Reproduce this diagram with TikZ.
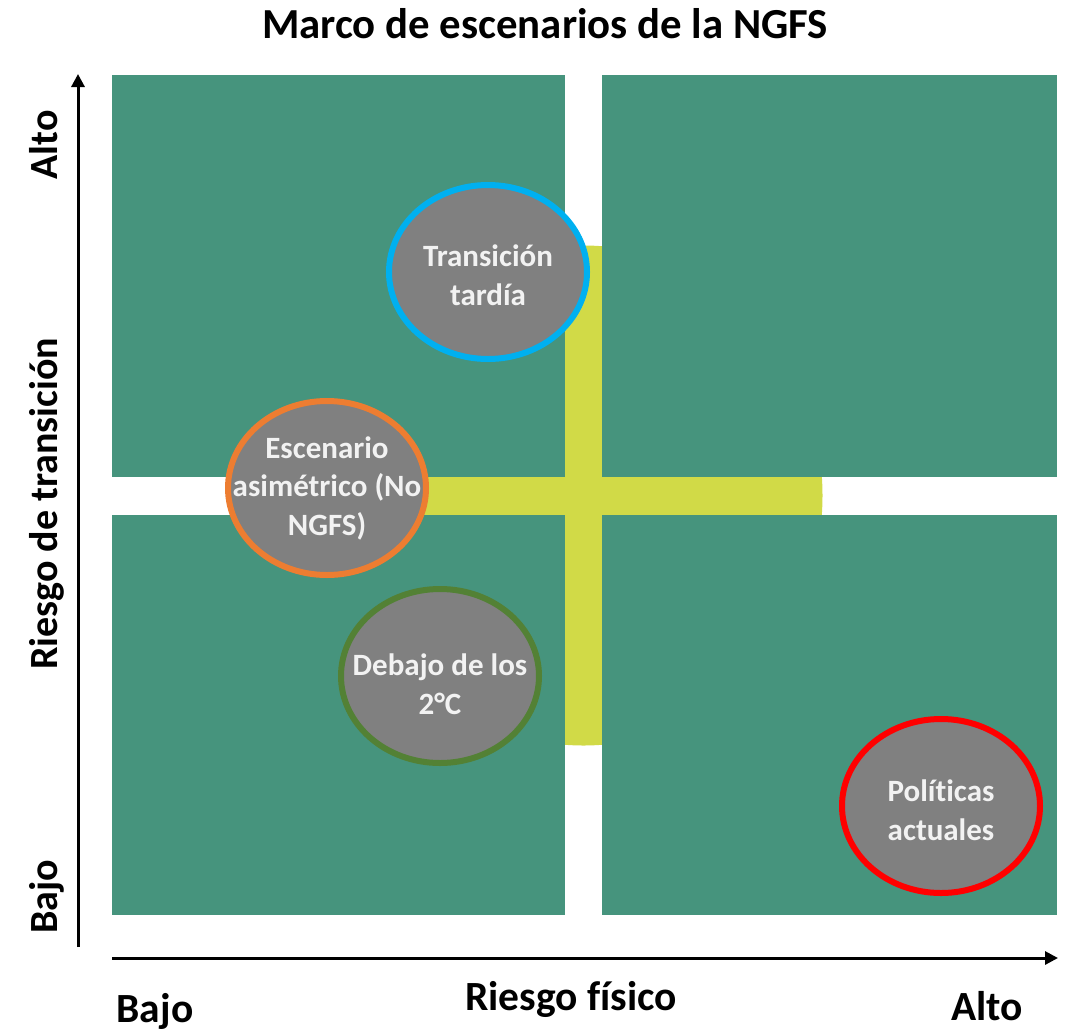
\documentclass[tikz,border=0pt]{standalone}
\usepackage{fontspec}
\setmainfont{Carlito}[Ligatures=NoCommon]
\usetikzlibrary{shapes.geometric,arrows.meta}
\definecolor{qgreen}{HTML}{46947D}
\definecolor{ylw}{HTML}{D1DA47}
\definecolor{sgray}{HTML}{808080}
\definecolor{cblue}{HTML}{00B0F0}
\definecolor{corange}{HTML}{ED7D31}
\definecolor{cdgreen}{HTML}{538135}
\definecolor{cred}{HTML}{FF0000}
\definecolor{stxt}{HTML}{F2F2F2}
\tikzset{
  quad/.style={fill=qgreen},
  scen/.style={ellipse, fill=sgray, line width=6pt, minimum width=198pt, minimum height=174pt, inner sep=0pt},
  stext/.style={text=stxt, font=\fontsize{31}{38.5}\selectfont\bfseries, align=center, inner sep=0pt},
  axlabel/.style={font=\fontsize{41.5}{48}\selectfont\bfseries, inner sep=0pt},
  vlabel/.style={font=\fontsize{40}{48}\selectfont\bfseries, inner sep=0pt, rotate=90, anchor=base},
  titlefont/.style={font=\fontsize{42.8}{50}\selectfont\bfseries, inner sep=0pt},
  axisline/.style={line width=3pt, -{Triangle[length=13pt,width=13pt]}}
}
\begin{document}
\begin{tikzpicture}[x=1pt,y=-1pt]
\useasboundingbox (0,0) rectangle (1071,1034);
% yellow disc behind the quadrants
\fill[ylw] (583.5,495.5) ellipse [x radius=239pt, y radius=250pt];
% quadrants
\fill[quad] (112,75) rectangle (565,477);
\fill[quad] (602,75) rectangle (1057,477);
\fill[quad] (112,515) rectangle (565,915);
\fill[quad] (602,515) rectangle (1057,915);
% title
\node[titlefont, anchor=base] (title) at (545,38) {Marco de escenarios de la NGFS};
% axes
\coordinate (vstart) at (78,947);
\coordinate (vend) at (78,74);
\coordinate (hstart) at (112,958);
\coordinate (hend) at (1058,958);
\draw[axisline] (vstart) -- (vend);
\draw[axisline] (hstart) -- (hend);
% axis labels
\node[vlabel] (yalto) at (57,145) {Alto};
\node[vlabel] (ytitle) at (57,504) {Riesgo de transición};
\node[vlabel] (ybajo) at (57,897) {Bajo};
\node[axlabel, anchor=base] (xbajo) at (155,1022) {Bajo};
\node[axlabel, anchor=base] (xtitle) at (571,1010) {Riesgo físico};
\node[axlabel, anchor=base] (xalto) at (987,1020) {Alto};
% scenarios
\node[scen, draw=cblue] (tt) at (488,272) {};
\node[stext] (ttl) at ([yshift=-3pt]tt.center) {Transición\\tardía};
\node[scen, draw=corange] (ea) at (327,488) {};
\node[stext] (eal) at (ea.center) {Escenario\\asimétrico (No\\NGFS)};
\node[scen, draw=cdgreen] (db) at (440,676) {};
\node[stext] (dbl) at ([yshift=-8pt]db.center) {Debajo de los\\2°C};
\node[scen, draw=cred] (pa) at (941,806) {};
\node[stext] (pal) at ([yshift=-4pt]pa.center) {Políticas\\actuales};
\end{tikzpicture}
\end{document}
